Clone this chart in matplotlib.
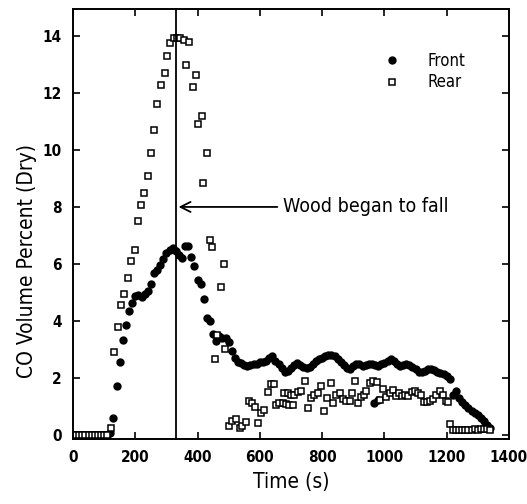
import matplotlib
matplotlib.use("Agg")
import matplotlib.pyplot as plt

# Front probe: sampled every 10 s
front_time = list(range(0, 1350, 10)) + [968, 980]
front_co = [
    0, 0, 0, 0, 0, 0, 0, 0, 0, 0, 0, 0, 0.05,
    0.58, 1.72, 2.54, 3.31, 3.86, 4.33, 4.64, 4.88, 4.91, 4.83,
    4.95, 5.06, 5.3, 5.67, 5.79, 5.96, 6.16, 6.37, 6.49, 6.55,
    6.45, 6.3, 6.2, 6.63, 6.63, 6.23, 5.93, 5.45, 5.3, 4.75,
    4.1, 4.0, 3.55, 3.3, 3.45, 3.4, 3.4, 3.25, 2.95, 2.7,
    2.57, 2.52, 2.45, 2.4, 2.45, 2.5, 2.5, 2.55, 2.57, 2.6,
    2.7, 2.75, 2.6, 2.5, 2.35, 2.22, 2.25, 2.35, 2.45, 2.52,
    2.45, 2.38, 2.34, 2.38, 2.5, 2.6, 2.65, 2.7, 2.75, 2.8,
    2.8, 2.75, 2.65, 2.55, 2.45, 2.35, 2.3, 2.4, 2.5, 2.5,
    2.42, 2.45, 2.5, 2.5, 2.45, 2.4, 2.5, 2.52, 2.6, 2.65,
    2.6, 2.5, 2.4, 2.45, 2.5, 2.45, 2.38, 2.3, 2.22, 2.2,
    2.25, 2.3, 2.3, 2.28, 2.22, 2.18, 2.12, 2.05, 1.95, 1.4,
    1.52, 1.3, 1.15, 1.05, 0.95, 0.85, 0.78, 0.68, 0.58, 0.48,
    0.35, 0.22,
    1.1, 1.22,
]

# Rear probe
rear_time = [
    0, 10, 20, 30, 40, 50, 60, 70, 80, 90, 100, 110,
    123, 132, 145, 155, 165, 177, 187, 200, 210, 219, 229, 242,
    252, 261, 271, 284, 294, 303, 313, 324, 334, 345, 355, 363,
    371, 384, 394, 400, 413, 419, 429, 440, 447, 455, 462, 475,
    484, 489, 501, 512, 525, 535, 544, 557, 566, 576, 585, 595,
    603, 614, 625, 635, 646, 652, 662, 673, 678, 684, 689, 695,
    700, 705, 711, 722, 732, 745, 754, 765, 775, 786, 795, 805,
    816, 827, 835, 845, 856, 867, 877, 888, 896, 906, 915, 926,
    934, 942, 953, 964, 975, 985, 996, 1006, 1017, 1027, 1037, 1047,
    1057, 1067, 1077, 1087, 1097, 1107, 1117, 1127, 1137, 1147, 1157, 1167,
    1177, 1187, 1197, 1204, 1211, 1220, 1230, 1240, 1250, 1260, 1270, 1280,
    1290, 1300, 1310, 1320, 1330, 1340,
]
rear_co = [
    0, 0, 0, 0, 0, 0, 0, 0, 0, 0, 0, 0,
    0.25, 2.9, 3.8, 4.56, 4.95, 5.5, 6.1, 6.5, 7.5, 8.07, 8.5, 9.1,
    9.9, 10.7, 11.6, 12.3, 12.7, 13.3, 13.76, 13.95, 13.95, 13.95, 13.86, 13.0,
    13.8, 12.2, 12.65, 10.9, 11.2, 8.85, 9.9, 6.85, 6.6, 2.65, 3.5, 5.2,
    6.0, 3.0, 0.32, 0.47, 0.56, 0.23, 0.29, 0.44, 1.17, 1.13, 0.97, 0.42,
    0.77, 0.88, 1.5, 1.78, 1.78, 1.05, 1.1, 1.1, 1.45, 1.08, 1.45, 1.06,
    1.4, 1.05, 1.4, 1.5, 1.55, 1.9, 0.95, 1.3, 1.4, 1.46, 1.7, 0.84,
    1.3, 1.81, 1.11, 1.4, 1.48, 1.25, 1.17, 1.17, 1.46, 1.9, 1.11, 1.34,
    1.4, 1.54, 1.81, 1.87, 1.84, 1.23, 1.6, 1.34, 1.46, 1.58, 1.37, 1.45,
    1.35, 1.4, 1.35, 1.5, 1.55, 1.45, 1.4, 1.15, 1.15, 1.2, 1.25, 1.4,
    1.55, 1.4, 1.2, 1.15, 0.37, 0.17, 0.16, 0.18, 0.17, 0.18, 0.16, 0.18,
    0.2, 0.18, 0.19, 0.2, 0.2, 0.18,
]

fall_time = 330
fall_label = "Wood began to fall"

plt.rcParams['font.family'] = ['DejaVu Sans']
plt.rcParams['font.stretch'] = 'condensed'

fig = plt.figure(figsize=(5.27, 5.04), dpi=100)
ax = fig.add_axes([0.1385, 0.129, 0.8273, 0.853])

ax.plot(front_time, front_co, 'o', color='black', markersize=5, label='Front')
ax.plot(rear_time, rear_co, 's', markerfacecolor='white', markeredgecolor='black',
        markeredgewidth=1.1, markersize=5, label='Rear')

ax.axvline(fall_time, color='black', lw=1.3)
ax.annotate('', xy=(fall_time, 8), xytext=(665, 8),
            arrowprops=dict(arrowstyle='->', color='black', lw=1.3,
                            mutation_scale=18))
ax.text(675, 8, fall_label, fontsize=14, va='center', ha='left')

ax.set_xlim(0, 1400)
ax.set_ylim(-0.15, 14.95)
ax.set_xticks(range(0, 1401, 200))
ax.set_yticks(range(0, 15, 2))
ax.tick_params(direction='in', top=True, right=True, length=5, width=1.2,
               labelsize=11, pad=8)
for lbl in ax.get_xticklabels() + ax.get_yticklabels():
    lbl.set_fontweight('bold')
for s in ax.spines.values():
    s.set_linewidth(1.4)

ax.set_xlabel("Time (s)", fontsize=15, labelpad=5)
ax.set_ylabel("CO Volume Percent (Dry)", fontsize=15)
ax.yaxis.set_label_coords(-0.083, 0.414)

ax.legend(loc='upper left', bbox_to_anchor=(0.66, 0.935), frameon=False,
          fontsize=12, handletextpad=1.1, labelspacing=0.2)

fig.savefig("out.png", dpi=100)
